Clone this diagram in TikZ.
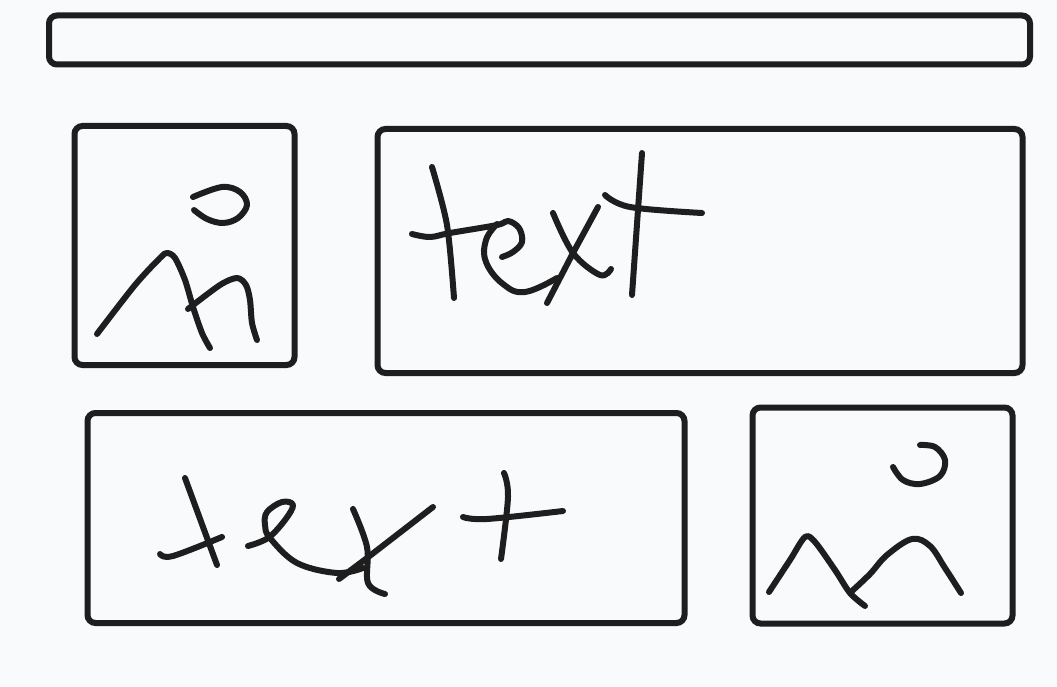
\documentclass[tikz,border=0pt]{standalone}
\definecolor{paper}{HTML}{F9FAFC}
\definecolor{ink}{HTML}{1E1E1E}
\tikzset{
  sketchbox/.style={draw=ink,line width=6pt,rounded corners=8pt,inner sep=0pt,outer sep=0pt},
  inkline/.style={draw=ink,line width=6pt,line cap=round,line join=round},
}
\begin{document}
\begin{tikzpicture}[x=1pt,y=-1pt]
\fill[paper] (0,0) rectangle (1057,687);
\useasboundingbox (0,0) rectangle (1057,687);

\node[sketchbox,minimum width=981pt,minimum height=49pt] (banner) at (539.5,40) {};
\node[sketchbox,minimum width=220pt,minimum height=239pt] (photoa) at (184.5,245.5) {};
\node[sketchbox,minimum width=645pt,minimum height=244pt] (texta) at (700,251) {};
\node[sketchbox,minimum width=597pt,minimum height=210pt] (textb) at (386,518) {};
\node[sketchbox,minimum width=260pt,minimum height=216pt] (photob) at (882.5,515.5) {};

% first image
\draw[inkline] plot[smooth,tension=0.6] coordinates {(193,197) (222,187) (240,192) (247,205) (238,218) (223,223) (207,219) (194,210)};
\draw[inkline] plot[smooth,tension=0.5] coordinates {(97,334) (135,285) (160,258) (167,253) (175,258) (185,280) (193,307) (202,333) (210,348)};
\draw[inkline] plot[smooth,tension=0.5] coordinates {(188,309) (220,285) (237,278) (246,285) (250,300) (252,323) (257,340)};

% first word
\draw[inkline] plot[smooth] coordinates {(432,167) (447,225) (454,298)};
\draw[inkline] plot[smooth,tension=0.6] coordinates {(412,234) (430,237) (450,233) (497,225) (508,221) (519,228) (522,242) (513,252) (502,257)};
\draw[inkline] plot[smooth,tension=0.7] coordinates {(497,224) (486,240) (486,262) (503,284) (525,292) (557,278)};
\draw[inkline] plot[smooth,tension=0.6] coordinates {(553,213) (573,253) (600,275) (611,269)};
\draw[inkline] (598,207) -- (573,253) -- (547,303);
\draw[inkline] (642,153) -- (632,295);
\draw[inkline] plot[smooth,tension=0.6] coordinates {(605,195) (630,207) (702,213)};

% second word
\draw[inkline] (185,478) -- (217,565);
\draw[inkline] plot[smooth,tension=0.6] coordinates {(160,554) (173,556) (222,537)};
\draw[inkline] plot[smooth,tension=0.6] coordinates {(248,546) (268,538) (285,520) (293,505) (282,502) (267,512) (265,525) (270,538) (297,563) (337,573) (363,568)};
\draw[inkline] plot[smooth,tension=0.6] coordinates {(353,509) (367,547) (368,583) (385,594)};
\draw[inkline] (433,507) -- (367,558) -- (339,579);
\draw[inkline] plot[smooth,tension=0.6] coordinates {(504,473) (508,497) (501,559)};
\draw[inkline] plot[smooth,tension=0.6] coordinates {(463,517) (487,519) (563,511)};

% second image
\draw[inkline] plot[smooth,tension=0.6] coordinates {(920,445) (935,447) (945,460) (940,476) (920,484) (903,480) (893,467)};
\draw[inkline] plot[smooth,tension=0.5] coordinates {(769,592) (790,560) (805,537) (815,542) (835,570) (850,593) (865,606)};
\draw[inkline] plot[smooth,tension=0.6] coordinates {(852,591) (870,574) (887,555) (912,539) (930,546) (945,568) (961,593)};
\end{tikzpicture}
\end{document}
